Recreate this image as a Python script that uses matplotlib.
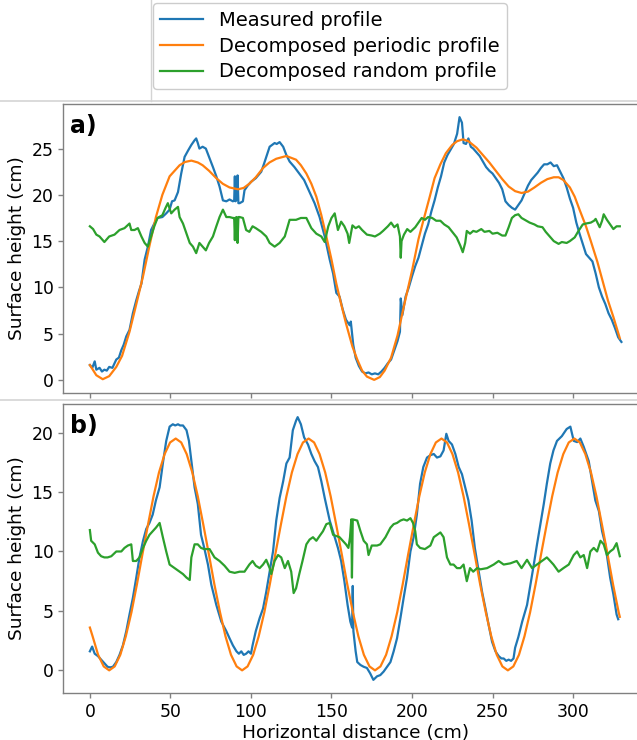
import matplotlib
matplotlib.use("Agg")
import matplotlib.pyplot as plt
from matplotlib.lines import Line2D

# ---------------- data ----------------
# Panel a) measured profile
a_meas_x = [0, 1.5, 3, 4, 6, 7.5, 9, 10.5, 12, 14, 16.4, 18, 19.5, 21, 22.6, 24.6, 26.7, 28.8, 30.5, 32,
            34, 36, 38, 40, 42, 45, 47.4, 49.5, 51, 52.6, 54.7, 56.7, 58.8, 61, 63, 65, 66, 67, 68, 70,
            72, 74, 76.4, 78.5, 80.5, 82.6, 84.7, 86.7, 88.8, 89.6, 90, 90.4, 91, 91.7, 92.2, 93, 95, 96, 98, 100,
            103, 106.4, 108, 109.5, 111.6, 114.7, 116, 117.8, 120, 122, 124, 127, 130, 133, 136.4, 139.5, 142.6,
            145.8, 148.9, 151, 153, 155, 157, 159, 161.3, 162, 163.5, 165, 167, 169, 171, 173, 175, 177, 179,
            181, 183, 185, 187, 189, 191, 192.5, 193, 194, 196, 198, 200, 202, 204, 206, 208, 210, 212, 214,
            216, 218, 220, 222, 224, 226, 228, 229.5, 231, 232, 233.5, 235, 236.5, 238, 240, 242, 244, 246,
            248, 250, 252, 254, 256, 258, 260, 262, 264, 266, 268, 270, 272, 274, 276, 278, 280, 282, 284,
            286, 288, 290, 292, 294, 296, 298, 300, 302, 304, 306, 308, 310, 312, 314, 316, 318, 320, 322,
            324, 326, 328, 330]
a_meas_y = [1.6, 1.3, 2.0, 1.1, 1.3, 0.9, 1.1, 1.0, 1.4, 1.3, 2.2, 2.4, 3.2, 3.8, 4.7, 5.4, 7.2, 8.6, 9.6, 10.4,
            13.0, 14.4, 16.2, 16.9, 17.5, 17.6, 18.0, 18.4, 19.3, 19.4, 20.3, 22.3, 24.1, 24.8, 25.4, 25.9, 26.1,
            25.6, 25.0, 25.2, 25.0, 24.1, 23.0, 22.0, 20.9, 19.4, 19.3, 19.5, 19.3, 19.4, 22.0, 19.3, 19.5, 22.1,
            19.1, 19.1, 19.3, 20.5, 21.0, 21.4, 21.8, 22.5, 23.3, 24.1, 25.2, 25.6, 25.5, 25.7, 25.2, 24.3, 23.6,
            23.0, 22.3, 21.6, 20.3, 19.1, 17.6, 15.5, 13.0, 11.5, 9.4, 9.0, 7.6, 6.5, 5.9, 6.3, 3.8, 2.4, 1.5,
            0.9, 0.7, 0.8, 0.6, 0.7, 0.6, 0.9, 1.3, 1.8, 2.2, 3.2, 4.2, 5.2, 8.8, 7.0, 9.0, 10.0, 11.2, 12.3,
            13.2, 14.5, 15.8, 16.8, 18.2, 19.4, 20.8, 22.0, 23.5, 24.3, 24.9, 25.5, 26.6, 28.4, 27.8, 25.6, 25.5,
            26.1, 25.2, 25.0, 24.6, 24.2, 23.6, 23.0, 22.6, 22.3, 21.8, 21.3, 20.6, 19.3, 18.9, 18.6, 18.4, 18.9,
            19.4, 20.2, 21.0, 21.6, 22.0, 22.4, 22.9, 23.3, 23.3, 23.5, 23.1, 23.2, 22.5, 21.8, 20.8, 19.6, 18.6,
            17.0, 15.8, 14.7, 13.6, 13.2, 12.8, 11.5, 10.0, 9.0, 8.2, 7.2, 6.5, 5.6, 4.6, 4.1]

# Panel a) decomposed periodic profile
a_per_x = [0, 4, 8, 12, 16.4, 20, 24.6, 28, 33, 37, 41, 45, 49.5, 55.7, 59, 63, 67, 70, 74, 78.5,
           82.5, 86.7, 92, 95.5, 99, 103, 107.5, 111.5, 115.7, 122, 128, 131, 134.4, 137.5, 140.6, 143.7,
           146.8, 150, 153, 156, 159, 163, 166, 169, 172, 176.5, 180, 183, 187, 191, 195, 200, 204, 207, 211,
           214, 217.6, 221, 225, 228, 231.5, 235, 240, 244, 248, 252, 256, 260, 264, 268, 272, 276, 280, 284,
           288, 291, 294, 298, 301, 304, 308, 311, 315, 318, 321.6, 325, 329]
a_per_y = [1.6, 0.5, 0.07, 0.4, 1.4, 2.6, 5.2, 7.6, 11.2, 14.5, 17.6, 20.0, 22.0, 23.2, 23.55, 23.7, 23.5,
           23.2, 22.6, 21.8, 21.2, 20.8, 20.6, 20.75, 21.2, 21.9, 22.9, 23.5, 23.9, 24.2, 23.8, 23.2, 22.3,
           21.2, 19.8, 17.8, 15.5, 13.0, 10.4, 8.2, 6.1, 3.6, 2.2, 1.0, 0.35, 0.0, 0.3, 1.0, 2.4, 4.8, 8.0,
           11.8, 15.2, 17.2, 19.8, 21.8, 23.3, 24.5, 25.4, 25.8, 26.0, 25.8, 25.1, 24.3, 23.5, 22.6, 21.7,
           20.9, 20.4, 20.2, 20.35, 20.8, 21.3, 21.7, 21.9, 21.9, 21.6, 20.8, 19.8, 18.4, 16.6, 15.0, 12.8,
           10.9, 8.6, 6.8, 4.5]

# Panel a) decomposed random profile
a_rand_x = [0, 2, 4, 6, 9, 12, 15.3, 18.4, 21.5, 24.6, 25.7, 27.7, 29.8, 32, 34, 36, 38, 40, 42, 45,
            47, 48.4, 50.5, 52.6, 54.7, 55.7, 57.8, 60, 62, 64, 66, 68, 70, 72, 74, 76.4, 78.5, 80.5, 82.6,
            84.7, 86.7, 88.8, 89.6, 90, 90.4, 91, 91.7, 92.2, 93, 95, 97, 99, 101, 103, 106.4, 109.5, 111.6,
            114.7, 117.8, 121, 124, 128, 131, 134.4, 137.5, 140.6, 143.7, 145.8, 148, 150, 152, 154, 156,
            158, 160, 161, 163, 165, 167, 169, 172, 175, 177, 180, 182, 185, 187, 189, 191, 192.5, 193, 193.5,
            195, 197, 199, 202, 204, 206, 208, 210, 212.5, 215, 217.6, 220, 222.7, 225, 227.7, 230, 231.5,
            233, 234, 236, 238, 240, 243, 245, 248, 250, 253, 256, 258, 260, 262, 264, 266, 268, 271, 273,
            276, 278, 281, 283, 286, 288, 291, 293, 296, 298, 301, 303, 306, 308, 311, 313, 314, 316.5, 318,
            319, 321, 323, 325, 327, 329]
a_rand_y = [16.6, 16.3, 15.7, 15.5, 14.9, 15.5, 15.7, 16.2, 16.4, 16.9, 16.2, 16.2, 16.4, 15.5, 14.8, 14.4,
            15.5, 16.6, 17.5, 17.8, 18.6, 19.1, 18.0, 18.4, 18.7, 17.6, 16.9, 15.8, 14.8, 14.4, 13.7, 14.8,
            14.4, 14.0, 14.8, 15.5, 16.6, 17.6, 18.4, 17.6, 17.6, 17.5, 17.5, 15.1, 17.5, 17.6, 14.8, 17.6,
            17.6, 17.5, 16.2, 16.0, 16.6, 16.4, 16.0, 15.5, 14.8, 14.4, 14.8, 15.5, 17.3, 17.3, 17.5, 17.5,
            16.4, 15.8, 15.5, 14.9, 16.6, 17.5, 18.0, 16.2, 17.1, 16.6, 15.8, 14.8, 16.7, 16.4, 16.6, 16.2,
            15.7, 15.6, 15.5, 15.8, 16.1, 16.6, 17.0, 16.5, 16.8, 15.5, 13.2, 15.0, 15.7, 16.3, 16.0, 16.5,
            17.0, 17.5, 17.3, 17.6, 17.5, 17.2, 17.2, 16.8, 16.5, 16.0, 15.4, 14.5, 13.8, 14.8, 16.1, 15.8,
            16.1, 16.0, 16.3, 16.0, 16.1, 15.8, 15.9, 15.6, 15.6, 16.5, 17.5, 17.8, 17.9, 17.5, 17.2, 17.0,
            16.8, 16.6, 16.5, 16.0, 15.4, 15.0, 14.7, 14.9, 14.8, 15.0, 15.4, 16.0, 16.8, 16.9, 17.0, 17.2,
            17.4, 16.5, 17.2, 17.9, 17.3, 16.8, 16.3, 16.6, 16.6]

# Panel b) measured profile
b_meas_x = [0, 1.4, 3, 5, 7, 9, 11, 12.5, 14.3, 16.4, 18.4, 20.5, 22.6, 24.6, 26.7, 28.8, 30.8, 33, 35, 37,
            39, 41, 43.3, 45.3, 47.4, 49.5, 51.5, 53, 54.7, 56, 57.8, 60, 61.5, 63, 65, 67, 69, 71, 73.3, 75.4,
            78.5, 81.6, 84.7, 86.7, 88.8, 91, 92.5, 94, 95.5, 97, 98.5, 100, 101, 103, 105.4, 107.5, 109.5,
            111.6, 113.7, 115.7, 117.8, 120, 122, 124, 126, 128, 129, 131, 133, 135.4, 137.5, 139.5, 141.6,
            143.7, 145.8, 148.9, 152, 154, 156, 158, 160, 161.7, 162.8, 163.2, 163.6, 165, 166, 168, 170, 172,
            174, 176, 178.3, 180.3, 182.4, 184.5, 186.6, 188.6, 190.7, 192.8, 194.8, 196.9, 199, 201, 203,
            205, 207, 209.3, 211.4, 213.5, 215.5, 217.6, 219.6, 221.3, 222.7, 224.8, 226.9, 229, 231, 233,
            235, 237, 239, 241.4, 243.5, 245.6, 247.6, 249.7, 251.8, 253.8, 255.5, 256.9, 258.5, 260, 261.5,
            263, 264, 266, 268.4, 271.4, 273.5, 275.6, 277.6, 279.7, 281.8, 283.7, 285.8, 287.8, 290, 293,
            296, 298.3, 300.4, 302.5, 304.5, 306.6, 309.7, 311.8, 313.8, 316, 318, 320, 323, 325, 327, 328]
b_meas_y = [1.6, 2.0, 1.4, 1.2, 0.9, 0.6, 0.3, 0.25, 0.3, 0.7, 1.3, 2.1, 3.3, 4.7, 6.1, 7.8, 9.5, 10.9, 11.9,
            12.4, 13.1, 14.3, 15.4, 17.4, 19.3, 20.5, 20.7, 20.6, 20.7, 20.6, 20.6, 20.2, 19.3, 17.6, 15.4,
            14.0, 11.4, 10.3, 8.9, 7.2, 5.5, 4.1, 3.3, 2.7, 2.1, 1.6, 1.4, 1.6, 1.3, 1.4, 1.6, 1.4, 2.1, 3.3,
            4.4, 5.2, 6.6, 8.3, 10.0, 12.6, 14.5, 15.9, 17.4, 17.9, 20.2, 21.0, 21.3, 20.7, 19.6, 19.0, 18.2,
            17.6, 17.1, 15.9, 14.5, 12.6, 11.2, 10.3, 9.2, 7.5, 5.5, 4.1, 3.6, 7.1, 3.3, 1.6, 0.7, 0.45, 0.3,
            0.2, -0.25, -0.8, -0.5, -0.4, -0.1, 0.3, 0.7, 1.6, 2.7, 4.4, 6.1, 7.8, 10.0, 11.2, 13.1, 15.7,
            17.1, 17.9, 18.1, 18.2, 17.9, 18.0, 18.5, 19.9, 19.3, 19.0, 18.2, 17.1, 16.5, 15.4, 14.3, 12.6,
            10.3, 8.3, 6.6, 5.2, 3.8, 2.4, 1.6, 1.2, 1.0, 1.0, 0.8, 0.9, 0.8, 1.0, 1.9, 2.8, 4.1, 5.5, 7.2,
            8.9, 10.6, 12.3, 14.0, 15.7, 17.4, 18.5, 19.3, 19.7, 20.3, 20.5, 19.3, 19.2, 19.5, 18.8, 17.6,
            15.9, 14.3, 13.4, 11.7, 10.6, 7.8, 6.4, 4.7, 4.3]

# Panel b) decomposed periodic profile
b_per_x = [0, 1.7, 5.1, 8.6, 12.0, 15.4, 18.9, 22.3, 25.8, 29.2, 32.6, 36.1, 39.5, 42.9, 46.4, 49.8, 53.3,
           56.7, 60.1, 63.6, 67.0, 70.4, 73.9, 77.3, 80.8, 84.2, 87.6, 91.1, 94.5, 97.9, 101.4, 104.8, 108.3,
           111.7, 115.1, 118.6, 122.0, 125.4, 128.9, 132.3, 135.8, 139.2, 142.6, 146.1, 149.5, 152.9, 156.4,
           159.8, 163.3, 166.7, 170.1, 173.6, 177.0, 180.4, 183.9, 187.3, 190.8, 194.2, 197.6, 201.1, 204.5,
           207.9, 211.4, 214.8, 218.3, 221.7, 225.1, 228.6, 232.0, 235.4, 238.9, 242.3, 245.8, 249.2, 252.6,
           256.1, 259.5, 262.9, 266.4, 269.8, 273.3, 276.7, 280.1, 283.6, 287.0, 290.4, 293.9, 297.3, 300.8,
           304.2, 307.6, 311.1, 314.5, 317.9, 321.4, 324.8, 328.3, 329]
b_per_y = [3.6, 2.86, 1.31, 0.33,
           0.0, 0.33, 1.31, 2.86, 4.88, 7.23, 9.75, 12.27, 14.63, 16.64, 18.19, 19.17,
           19.5, 19.17, 18.19, 16.64, 14.63, 12.27, 9.75, 7.23, 4.88, 2.86, 1.31, 0.33,
           0.0, 0.33, 1.31, 2.86, 4.88, 7.23, 9.75, 12.27, 14.63, 16.64, 18.19, 19.17,
           19.5, 19.17, 18.19, 16.64, 14.63, 12.27, 9.75, 7.23, 4.88, 2.86, 1.31, 0.33,
           0.0, 0.33, 1.31, 2.86, 4.88, 7.23, 9.75, 12.27, 14.63, 16.64, 18.19, 19.17,
           19.5, 19.17, 18.19, 16.64, 14.63, 12.27, 9.75, 7.23, 4.88, 2.86, 1.31, 0.33,
           0.0, 0.33, 1.31, 2.86, 4.88, 7.23, 9.75, 12.27, 14.63, 16.64, 18.19, 19.17,
           19.5, 19.17, 18.19, 16.64, 14.63, 12.27, 9.75, 7.23, 4.88, 4.5]

# Panel b) decomposed random profile
b_rand_x = [0, 0.8, 3, 5, 7, 9, 11, 13.3, 16.4, 19.5, 21.5, 23.6, 25.7, 26.7, 28.8, 30.8, 33, 35, 37, 39,
            41, 43.3, 45.3, 47.4, 49.5, 52.6, 55.7, 57.8, 60, 62, 63, 65, 67, 69, 71, 74.3, 77.4, 80.5, 83.6,
            86.7, 89.9, 93, 96, 99, 101, 103, 105.4, 107.5, 109.5, 111.6, 112.6, 114.7, 116.8, 118.8, 121, 123,
            125, 126.5, 128, 130, 132, 134.4, 136.4, 138.5, 140.6, 142.6, 144.7, 146.8, 148.9, 151, 153, 155,
            157, 159, 160.5, 161.5, 162.3, 162.7, 163.2, 166, 168, 170, 172, 173, 175, 178.3, 180.3, 183.5,
            186.6, 188.6, 190.7, 192.8, 194.8, 196.9, 199, 200.6, 202, 203, 205, 208, 211.4, 213.5, 215.5,
            217.6, 219.6, 221.7, 223.8, 225.8, 227.9, 230, 232, 234, 236, 238, 240.4, 242.5, 246.6, 250.7,
            253.8, 256.9, 261, 265, 268, 271.4, 274.5, 277.6, 280.6, 283.7, 285.8, 287.8, 291, 294, 297.3,
            300.4, 302.5, 304.5, 306.6, 308.7, 310.7, 312.8, 314.9, 317, 319, 321, 323, 325, 327, 329]
b_rand_y = [11.8, 10.9, 10.6, 9.9, 9.6, 9.5, 9.5, 9.6, 10.0, 10.0, 10.3, 10.5, 10.6, 9.2, 9.2, 9.5, 10.3,
            10.9, 11.4, 11.7, 12.0, 12.4, 11.2, 10.0, 8.9, 8.6, 8.3, 8.1, 7.8, 7.6, 9.5, 10.6, 10.6, 10.3,
            10.2, 10.2, 9.5, 9.2, 8.8, 8.3, 8.2, 8.3, 8.3, 8.9, 9.2, 8.8, 8.6, 8.9, 9.3, 8.6, 8.1, 9.2, 9.7,
            9.5, 8.6, 9.2, 8.3, 6.5, 6.9, 8.1, 9.2, 10.6, 11.0, 11.2, 10.9, 11.3, 11.7, 12.3, 12.4, 11.4, 11.3,
            11.2, 10.9, 10.6, 10.3, 11.2, 12.7, 7.8, 12.7, 12.6, 11.7, 10.9, 10.6, 9.7, 10.5, 10.5, 10.6, 11.2,
            12.0, 12.3, 12.4, 12.6, 12.7, 12.6, 12.8, 12.4, 11.7, 10.6, 10.3, 10.2, 10.5, 11.2, 11.4, 11.6,
            11.2, 9.5, 8.9, 8.9, 8.6, 8.6, 8.9, 7.5, 8.6, 8.3, 8.6, 8.5, 8.6, 8.9, 9.2, 8.9, 9.0, 9.2, 8.6,
            9.3, 8.6, 8.9, 9.2, 9.5, 9.2, 8.9, 8.3, 8.6, 8.9, 9.7, 10.0, 9.5, 9.7, 8.6, 10.0, 10.3, 10.0, 10.9,
            10.6, 9.7, 10.0, 10.2, 10.7, 9.6]

series_labels = ["Measured profile", "Decomposed periodic profile", "Decomposed random profile"]
panel_labels = ["a)", "b)"]
a_yticks = [0, 5, 10, 15, 20, 25]
b_yticks = [0, 5, 10, 15, 20]
x_ticks = [0, 50, 100, 150, 200, 250, 300]
x_label = "Horizontal distance (cm)"
y_label = "Surface height (cm)"

# ---------------- figure ----------------
W, H = 637, 740
fig = plt.figure(figsize=(W / 100, H / 100), dpi=100)

def fx(px):
    return px / W

def fy(py):
    return 1 - py / H

left_px, right_px = 63.3, 648.0
ax_a = fig.add_axes([fx(left_px), fy(393), fx(right_px - left_px), (393 - 104) / H])
ax_b = fig.add_axes([fx(left_px), fy(693), fx(right_px - left_px), (693 - 404) / H])

colors = ["#1f77b4", "#ff7f0e", "#2ca02c"]
lw = 1.6
spine_col = "#808080"

panels = [
    (ax_a, a_meas_x, a_meas_y, a_per_x, a_per_y, a_rand_x, a_rand_y, a_yticks, panel_labels[0]),
    (ax_b, b_meas_x, b_meas_y, b_per_x, b_per_y, b_rand_x, b_rand_y, b_yticks, panel_labels[1]),
]
handles = None
for ax, mx, my, px, py, rx, ry, yt, plab in panels:
    assert len(mx) == len(my) and len(px) == len(py) and len(rx) == len(ry)
    h1, = ax.plot(mx, my, color=colors[0], lw=lw, label=series_labels[0])
    h2, = ax.plot(px, py, color=colors[1], lw=lw, label=series_labels[1])
    h3, = ax.plot(rx, ry, color=colors[2], lw=lw, label=series_labels[2])
    if handles is None:
        handles = [h1, h2, h3]
    ax.set_xlim(-16.5, 346.5)
    ax.set_xticks(x_ticks)
    ax.set_yticks(yt)
    ax.set_ylabel(y_label, fontsize=13.3)
    ax.tick_params(axis="both", labelsize=12.4, color=spine_col, length=3.5, width=1.0)
    for s in ax.spines.values():
        s.set_color(spine_col)
        s.set_linewidth(1.0)
    ax.text(0.012, 0.965, plab, transform=ax.transAxes, fontsize=17, fontweight="bold",
            va="top", ha="left")

ax_a.tick_params(axis="x", labelbottom=False)
ax_b.set_xlabel(x_label, fontsize=13.3, labelpad=2)

# legend in its own framed area at the top
fig.legend(handles=handles, labels=series_labels, loc="upper left",
           bbox_to_anchor=(fx(152.7), fy(3)), fontsize=14, labelspacing=0.35,
           handlelength=2.2, borderaxespad=0.0, framealpha=1.0, edgecolor="#cccccc")

# faint panel separator lines of the composed figure
light = "#d4d4d4"
fig.add_artist(Line2D([0, 1], [fy(100.5), fy(100.5)], color=light, lw=1.2, transform=fig.transFigure))
fig.add_artist(Line2D([0, 1], [fy(399.5), fy(399.5)], color=light, lw=1.2, transform=fig.transFigure))
fig.add_artist(Line2D([fx(151), fx(151)], [fy(0), fy(100.5)], color=light, lw=1.0, transform=fig.transFigure))

fig.savefig("out.png", dpi=100)
